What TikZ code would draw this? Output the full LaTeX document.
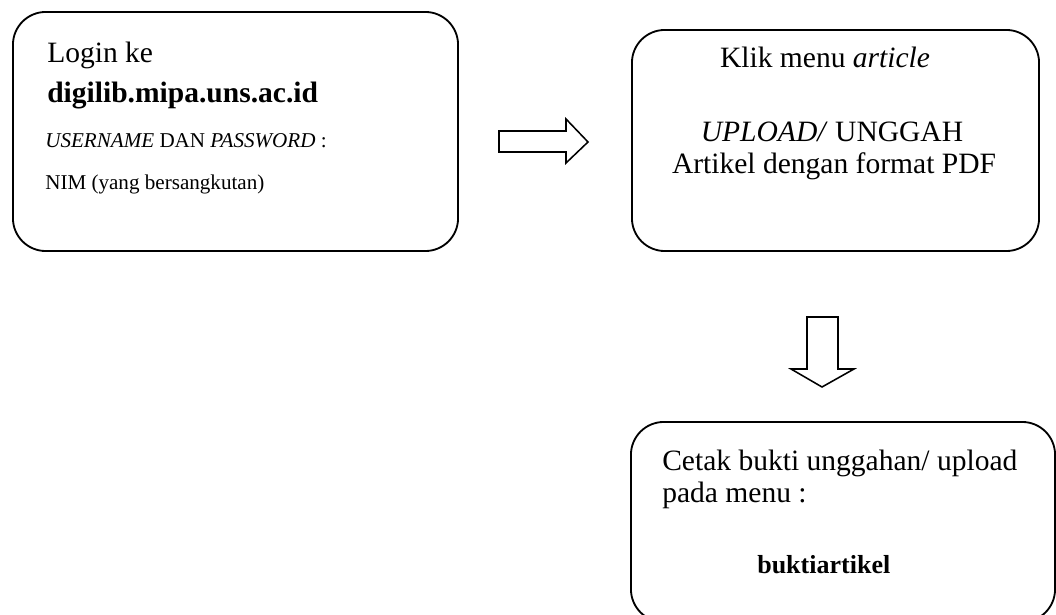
\documentclass[tikz,border=0pt]{standalone}
\usepackage{fontspec}
\setmainfont{Liberation Serif}
\usepackage{tikz}

\begin{document}
\begin{tikzpicture}
[x=0.025cm,y=-0.025cm]
\tikzset{stepbox/.style={draw,line width=1.3pt,rounded corners=0.82cm,inner sep=0}}
\tikzset{bigtxt/.style={inner sep=0,font=\fontsize{21}{25}\selectfont}}
\tikzset{smalltxt/.style={inner sep=0,font=\fontsize{15}{18}\selectfont}}
\tikzset{blockarrow/.style={draw,line width=1.1pt,line join=miter}}
\useasboundingbox (0,0) rectangle (1056,615);

\node [stepbox,minimum width=11.125cm,minimum height=5.975cm] (b1) at (235.5,131.5) {};
\node [stepbox,minimum width=10.175cm,minimum height=5.525cm] (b2) at (835.5,140.5) {};
\node [stepbox,minimum width=10.6cm,minimum height=5cm] (b3) at (843,522) {};

\node [bigtxt,anchor=base west] (login) at (47,63) {Login ke};
\node [bigtxt,anchor=base west] (site) at (47,103) {\textbf{digilib.mipa.uns.ac.id}};
\node [smalltxt,anchor=base west] (user) at (45,148) {\textit{USERNAME} DAN \textit{PASSWORD} :};
\node [smalltxt,anchor=base west] (nim) at (45,190) {NIM (yang bersangkutan)};

\node [bigtxt,anchor=base] (klik) at (825,68) {Klik menu \textit{article}};
\node [bigtxt,anchor=base] (upload) at (832,142) {\textit{UPLOAD/} UNGGAH};
\node [bigtxt,anchor=base] (artikel) at (834,174) {Artikel dengan format PDF};

\node [bigtxt,anchor=base west] (cetak) at (662,470) {Cetak bukti unggahan/ upload};
\node [bigtxt,anchor=base west] (pada) at (662,502) {pada menu :};
\node [bigtxt,anchor=base west,font=\fontsize{18.5}{22}\selectfont\bfseries] (bukti) at (757,573) {buktiartikel};

\draw [blockarrow] (499,131) -- (566,131) -- (566,119) -- (588,142) -- (566,163) -- (566,152) -- (499,152) -- cycle;
\draw [blockarrow] (807,317) -- (838,317) -- (838,369) -- (854,369) -- (822,387) -- (791,369) -- (807,369) -- cycle;

\end{tikzpicture}
\end{document}
